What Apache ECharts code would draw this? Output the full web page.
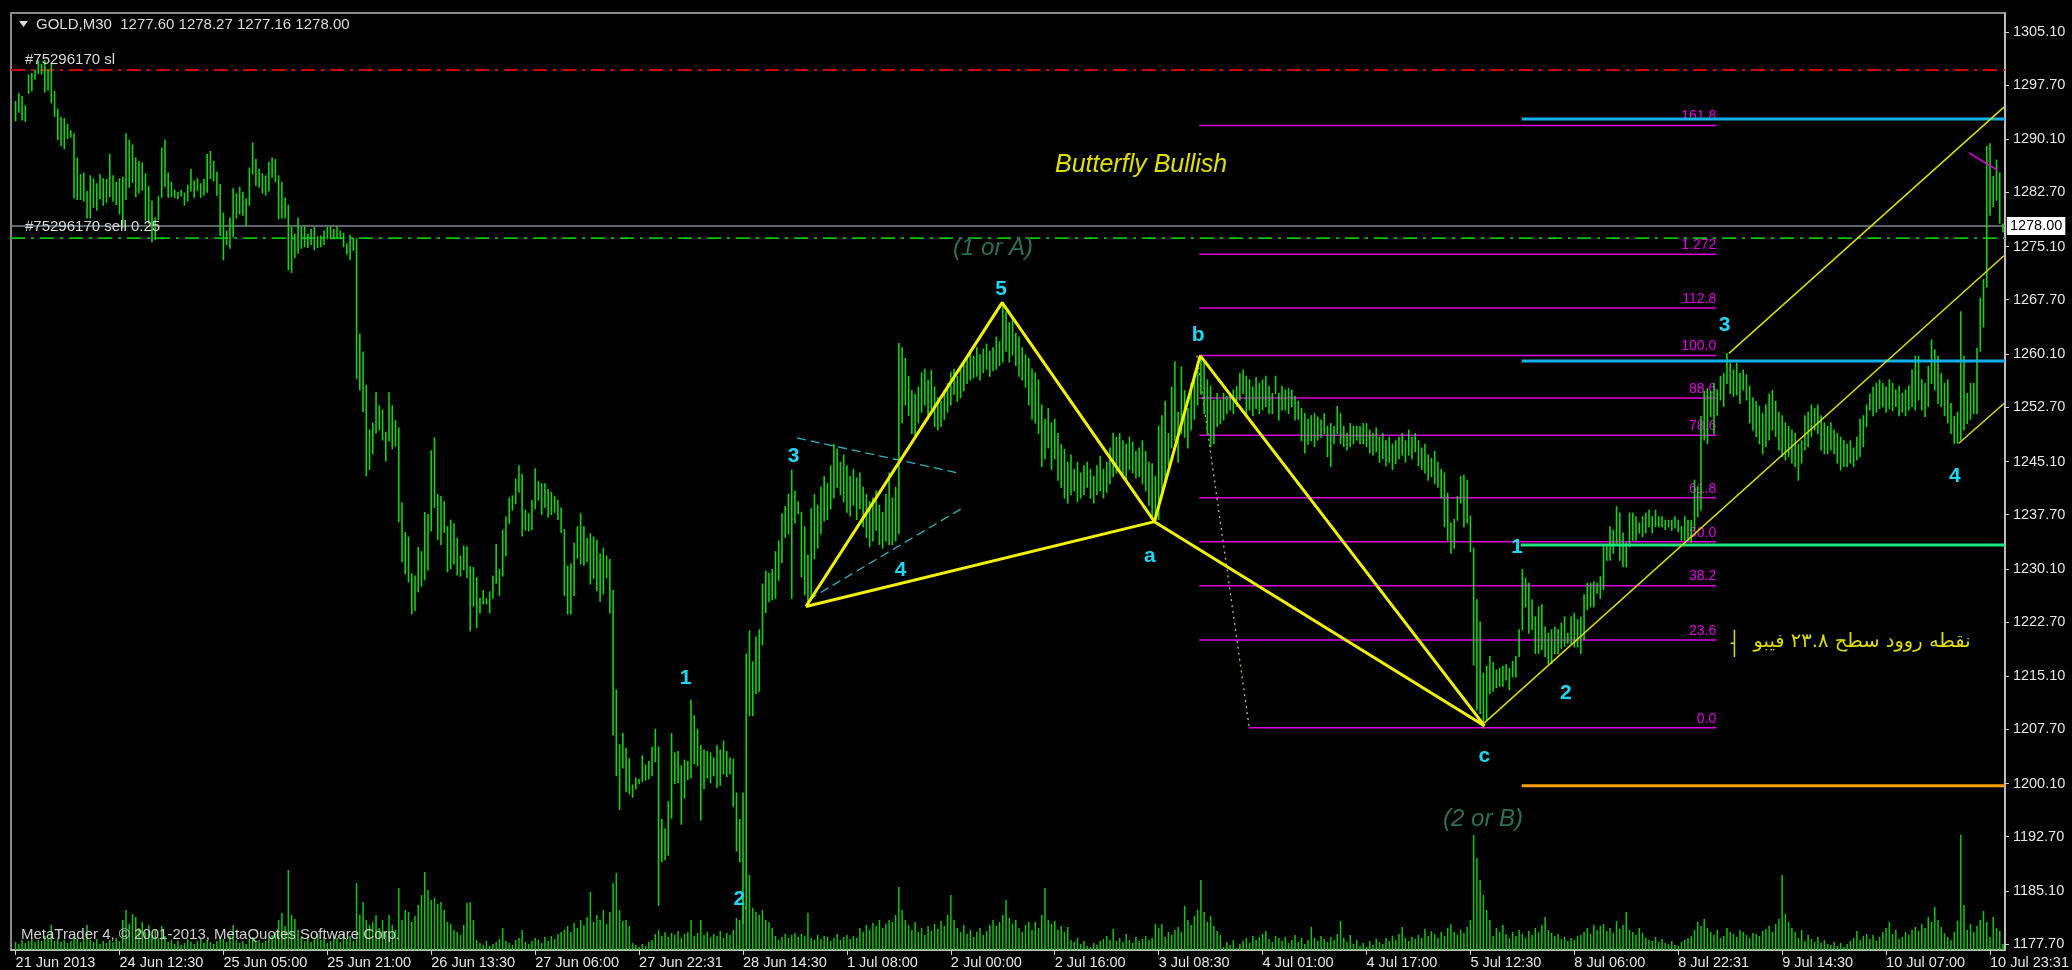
<!DOCTYPE html>
<html>
<head>
<meta charset="utf-8">
<title>GOLD,M30</title>
<script src="https://cdn.jsdelivr.net/npm/echarts@6/dist/echarts.min.js"></script>
<style>
  html, body { margin: 0; padding: 0; background: #000; }
  #chart { width: 2072px; height: 970px; }
</style>
</head>
<body>
<div id="chart"></div>
<script>
// ---- time axis (one label every 32 half-hour bars) ----
const timeLabels = ['21 Jun 2013', '24 Jun 12:30', '25 Jun 05:00', '25 Jun 21:00', '26 Jun 13:30',
  '27 Jun 06:00', '27 Jun 22:31', '28 Jun 14:30', '1 Jul 08:00', '2 Jul 00:00', '2 Jul 16:00',
  '3 Jul 08:30', '4 Jul 01:00', '4 Jul 17:00', '5 Jul 12:30', '8 Jul 06:00', '8 Jul 22:31',
  '9 Jul 14:30', '10 Jul 07:00', '10 Jul 23:31'];
const timeLabelBars = [0, 32, 64, 96, 128, 160, 192, 224, 256, 288, 320, 352, 384, 416, 448, 480, 512, 544, 576, 608];

// ---- price scale labels ----
const priceTicks = [1177.70, 1185.10, 1192.70, 1200.10, 1207.70, 1215.10, 1222.70, 1230.10, 1237.70,
  1245.10, 1252.70, 1260.10, 1267.70, 1275.10, 1282.70, 1290.10, 1297.70, 1305.10];

// ---- M30 bars: [high, low] ----
const priceBars = [
  [1295.4,1292.7],[1296.5,1293.9],[1296.1,1292.8],[1294.8,1292.6],[1299.1,1296.5],[1299.3,1296.9],[1299.8,1298.5],[1301.1,1299.3],[1300.6,1299.2],[1301.1,1296.7],
  [1299.8,1297.0],[1300.7,1295.2],[1296.8,1293.3],[1294.3,1290.1],[1293.2,1289.2],[1293.0,1288.8],[1292.2,1290.2],[1291.3,1290.4],[1290.9,1281.9],[1287.5,1281.7],
  [1285.2,1281.7],[1285.4,1281.5],[1282.8,1279.1],[1285.0,1279.1],[1284.6,1280.6],[1283.9,1280.2],[1285.2,1281.8],[1284.6,1280.9],[1284.5,1281.3],[1288.0,1282.1],
  [1285.0,1281.5],[1284.1,1281.0],[1284.6,1279.7],[1284.8,1277.8],[1290.9,1281.7],[1290.0,1283.4],[1289.3,1284.1],[1287.5,1282.1],[1287.0,1282.6],[1286.8,1283.0],
  [1285.3,1278.8],[1283.5,1278.4],[1281.5,1275.8],[1279.1,1276.1],[1282.1,1278.9],[1288.9,1282.0],[1290.0,1283.5],[1285.4,1282.0],[1284.1,1282.1],[1283.0,1282.0],
  [1282.7,1281.8],[1283.0,1282.2],[1282.6,1280.9],[1283.7,1281.5],[1285.9,1282.9],[1284.3,1282.0],[1284.6,1283.0],[1283.9,1282.0],[1284.5,1282.3],[1288.0,1282.7],
  [1288.4,1284.6],[1287.0,1284.3],[1285.5,1282.3],[1283.8,1276.7],[1279.8,1273.3],[1277.3,1275.4],[1279.1,1274.9],[1283.2,1276.5],[1282.5,1279.1],[1283.4,1279.7],
  [1282.7,1279.5],[1281.8,1278.1],[1286.1,1280.9],[1289.6,1285.3],[1287.3,1283.7],[1285.9,1283.4],[1285.3,1282.6],[1285.0,1282.3],[1286.9,1282.9],[1287.5,1284.8],
  [1287.3,1284.2],[1285.0,1279.0],[1284.1,1279.1],[1281.9,1279.1],[1280.9,1271.9],[1277.8,1271.5],[1276.8,1273.6],[1279.1,1274.2],[1277.8,1274.9],[1277.9,1275.1],
  [1276.8,1275.0],[1277.5,1275.4],[1277.8,1274.7],[1276.5,1275.0],[1276.6,1275.1],[1277.3,1275.4],[1277.8,1276.2],[1277.9,1276.2],[1277.5,1276.2],[1277.9,1276.3],
  [1277.3,1276.2],[1277.0,1275.1],[1275.5,1274.1],[1276.7,1273.3],[1276.3,1274.6],[1276.2,1256.7],[1262.9,1255.1],[1260.4,1252.1],[1255.75,1243.1],[1249.5,1244.0],
  [1250.45,1246.2],[1254.7,1249.1],[1252.9,1249.5],[1252.3,1248.1],[1249.2,1245.15],[1254.7,1247.95],[1252.9,1246.9],[1250.8,1247.3],[1249.8,1236.7],[1239.35,1231.1],
  [1235.2,1229.4],[1234.55,1228.3],[1229.4,1223.8],[1229.1,1224.3],[1233.1,1226.9],[1232.5,1227.7],[1238.0,1228.6],[1237.7,1229.9],[1246.6,1235.4],[1248.4,1238.7],
  [1240.5,1234.2],[1240.2,1233.5],[1239.5,1235.2],[1236.0,1229.7],[1236.9,1230.1],[1236.4,1230.8],[1234.4,1229.25],[1231.9,1229.1],[1233.3,1230.0],[1233.2,1228.9],
  [1230.4,1221.45],[1230.3,1224.9],[1228.9,1221.9],[1226.0,1223.95],[1227.1,1225.2],[1225.95,1225.2],[1226.9,1223.95],[1229.1,1226.0],[1233.5,1228.1],[1230.0,1226.4],
  [1235.5,1229.1],[1237.35,1231.9],[1240.0,1236.4],[1240.3,1238.3],[1242.65,1239.2],[1244.5,1240.8],[1243.3,1234.7],[1238.3,1235.5],[1237.8,1235.4],[1239.7,1235.6],
  [1244.1,1238.5],[1242.3,1239.7],[1242.0,1237.7],[1242.0,1238.7],[1241.2,1237.35],[1240.8,1237.7],[1240.2,1238.0],[1239.7,1237.0],[1238.6,1235.2],[1235.6,1226.4],
  [1230.5,1223.8],[1230.8,1223.8],[1233.7,1226.4],[1236.0,1231.6],[1237.8,1230.8],[1236.0,1230.6],[1234.4,1231.1],[1235.0,1228.0],[1234.55,1228.75],[1234.1,1227.1],
  [1232.2,1225.6],[1233.0,1226.6],[1231.9,1228.9],[1231.4,1223.95],[1227.1,1206.9],[1213.2,1201.2],[1205.55,1196.5],[1207.1,1202.3],[1205.05,1199.0],[1203.6,1198.7],
  [1199.9,1198.2],[1200.9,1199.4],[1200.7,1200.1],[1204.0,1200.4],[1202.7,1200.6],[1203.2,1200.8],[1205.2,1201.2],[1207.7,1203.2],[1205.2,1183.1],[1195.1,1189.2],
  [1193.8,1189.5],[1197.6,1190.1],[1207.1,1195.3],[1204.4,1200.1],[1204.6,1200.25],[1202.6,1194.45],[1203.4,1198.1],[1203.2,1200.7],[1211.8,1200.9],[1209.6,1202.9],
  [1207.7,1202.6],[1205.4,1195.0],[1204.8,1199.4],[1204.6,1200.9],[1204.4,1200.25],[1203.7,1201.2],[1205.4,1199.6],[1204.8,1199.9],[1206.05,1201.5],[1204.6,1201.1],
  [1203.7,1201.5],[1203.5,1196.95],[1198.8,1190.7],[1195.1,1189.2],[1198.8,1180.6],[1218.2,1182.5],[1221.45,1209.6],[1217.1,1209.6],[1220.6,1212.7],[1221.6,1213.0],
  [1228.0,1219.5],[1229.8,1224.0],[1229.5,1225.5],[1230.0,1225.8],[1232.5,1226.0],[1234.0,1228.5],[1237.8,1231.0],[1238.8,1234.5],[1240.5,1235.0],[1243.9,1226.0],
  [1241.0,1236.5],[1239.5,1237.8],[1238.0,1229.0],[1236.0,1226.5],[1232.0,1224.8],[1238.5,1226.0],[1240.5,1231.5],[1239.0,1233.0],[1241.5,1235.0],[1243.0,1236.8],
  [1242.0,1237.0],[1244.5,1238.5],[1247.5,1240.0],[1246.8,1241.5],[1245.0,1240.5],[1246.0,1239.5],[1244.5,1238.0],[1243.0,1237.5],[1244.0,1239.0],[1242.8,1237.0],
  [1243.5,1238.5],[1241.5,1236.0],[1240.5,1234.5],[1239.5,1233.2],[1240.0,1234.0],[1241.0,1235.5],[1239.0,1233.5],[1238.0,1233.0],[1240.5,1234.0],[1243.5,1233.5],
  [1240.0,1233.5],[1241.5,1234.0],[1261.6,1235.0],[1261.0,1250.5],[1259.5,1253.0],[1257.0,1251.5],[1255.0,1249.0],[1254.5,1248.5],[1255.5,1250.5],[1257.5,1252.0],
  [1258.0,1253.0],[1256.5,1251.0],[1257.8,1252.5],[1255.5,1250.0],[1254.0,1249.5],[1253.5,1250.0],[1255.0,1251.0],[1256.0,1252.0],[1257.5,1253.0],[1258.0,1254.5],
  [1257.0,1253.5],[1258.5,1254.0],[1259.0,1255.0],[1259.5,1256.0],[1260.5,1256.5],[1259.8,1256.8],[1261.0,1257.0],[1260.0,1256.5],[1260.8,1257.5],[1261.5,1258.0],
  [1260.5,1257.0],[1261.0,1257.8],[1262.5,1258.0],[1261.8,1258.5],[1267.3,1259.0],[1266.0,1260.5],[1264.5,1259.0],[1265.0,1260.0],[1263.0,1258.5],[1262.5,1257.0],
  [1261.0,1256.5],[1260.0,1255.5],[1259.5,1253.0],[1258.0,1251.0],[1257.5,1250.5],[1256.5,1249.0],[1253.0,1244.4],[1251.0,1245.5],[1252.5,1247.0],[1250.5,1244.0],
  [1251.0,1245.5],[1249.0,1242.5],[1247.5,1241.5],[1246.8,1240.0],[1245.0,1239.3],[1246.0,1240.5],[1244.0,1241.0],[1245.0,1239.5],[1243.5,1240.0],[1244.5,1240.5],
  [1245.0,1241.5],[1244.0,1240.0],[1243.0,1239.3],[1244.5,1240.5],[1245.8,1241.0],[1244.0,1240.0],[1245.0,1240.8],[1247.0,1242.0],[1249.0,1243.0],[1248.5,1243.5],
  [1249.0,1244.0],[1248.0,1243.0],[1247.5,1242.5],[1248.5,1244.0],[1247.8,1243.5],[1246.5,1242.8],[1247.0,1243.0],[1248.0,1242.0],[1246.5,1241.0],[1245.0,1239.0],
  [1244.8,1237.5],[1243.0,1236.5],[1250.0,1237.0],[1251.5,1240.5],[1253.5,1242.5],[1249.0,1244.5],[1255.5,1247.0],[1259.0,1248.0],[1252.0,1245.0],[1258.3,1249.0],
  [1255.0,1248.5],[1252.5,1247.0],[1256.0,1249.5],[1257.5,1251.0],[1258.5,1253.0],[1259.9,1254.5],[1259.3,1251.8],[1256.5,1249.0],[1255.6,1247.2],[1253.7,1247.6],
  [1254.6,1250.0],[1253.7,1250.4],[1254.6,1250.9],[1254.2,1251.8],[1254.6,1252.3],[1255.1,1251.8],[1255.6,1252.8],[1257.4,1253.7],[1257.9,1254.6],[1257.0,1251.8],
  [1256.5,1252.3],[1255.5,1251.5],[1256.8,1252.5],[1256.0,1251.8],[1256.5,1252.3],[1257.0,1252.8],[1255.6,1251.8],[1254.6,1251.8],[1257.0,1254.6],[1254.6,1250.9],
  [1255.6,1252.3],[1255.1,1252.3],[1255.3,1251.8],[1255.1,1252.8],[1254.2,1250.9],[1253.5,1251.0],[1252.5,1248.0],[1251.8,1246.3],[1251.0,1247.5],[1251.5,1248.0],
  [1251.8,1247.2],[1251.3,1248.1],[1250.9,1248.5],[1251.8,1249.0],[1250.0,1245.8],[1250.4,1244.4],[1250.0,1247.6],[1252.8,1249.0],[1251.8,1247.6],[1250.0,1247.2],
  [1249.0,1246.7],[1250.4,1247.2],[1250.0,1247.6],[1250.0,1248.1],[1250.0,1247.6],[1250.4,1247.6],[1250.4,1247.2],[1249.5,1246.3],[1249.0,1246.0],[1249.8,1246.5],
  [1248.5,1245.0],[1249.0,1245.5],[1248.0,1244.5],[1248.5,1245.0],[1247.5,1244.0],[1248.0,1244.8],[1248.5,1245.5],[1249.0,1246.0],[1248.0,1245.0],[1249.5,1246.0],
  [1248.5,1245.5],[1249.0,1246.5],[1248.0,1244.5],[1247.0,1244.0],[1247.5,1243.5],[1246.0,1242.5],[1245.5,1243.0],[1246.5,1242.0],[1245.0,1241.5],[1244.0,1240.0],
  [1243.5,1236.0],[1240.7,1234.1],[1236.5,1232.3],[1237.0,1233.0],[1240.2,1236.9],[1243.0,1239.3],[1243.2,1236.0],[1242.5,1236.5],[1237.5,1232.5],[1233.0,1216.7],
  [1225.8,1210.4],[1222.7,1209.9],[1215.5,1207.9],[1216.5,1209.0],[1217.85,1212.7],[1217.0,1213.0],[1216.0,1213.5],[1216.2,1213.7],[1216.5,1213.7],[1216.7,1214.6],
  [1216.2,1213.2],[1217.2,1215.0],[1217.85,1215.0],[1221.6,1217.85],[1230.0,1221.6],[1228.8,1224.8],[1228.1,1221.1],[1225.8,1221.6],[1223.4,1218.3],[1224.8,1218.3],
  [1225.1,1218.8],[1222.0,1217.85],[1221.1,1216.9],[1221.6,1216.9],[1222.0,1218.3],[1221.6,1218.3],[1222.5,1219.0],[1223.4,1219.3],[1221.1,1219.7],[1223.4,1219.7],
  [1223.9,1219.2],[1223.0,1219.2],[1223.4,1218.3],[1226.5,1220.2],[1228.1,1224.4],[1228.1,1224.8],[1228.3,1224.8],[1228.1,1226.7],[1229.0,1226.0],[1233.2,1227.2],
  [1233.2,1231.3],[1236.0,1231.3],[1235.5,1232.3],[1238.8,1233.7],[1237.9,1231.3],[1235.1,1230.4],[1233.7,1230.4],[1237.9,1233.2],[1237.9,1234.1],[1237.4,1234.1],
  [1236.5,1235.1],[1237.4,1234.6],[1237.9,1235.1],[1238.3,1236.0],[1237.4,1235.1],[1238.3,1236.0],[1237.4,1236.0],[1237.4,1236.0],[1236.9,1235.6],[1236.9,1236.0],
  [1236.9,1235.5],[1237.4,1235.8],[1236.9,1235.3],[1236.0,1234.1],[1237.4,1234.1],[1236.9,1234.1],[1236.9,1233.8],[1242.5,1235.5],[1241.6,1237.4],[1251.4,1238.3],
  [1254.9,1248.1],[1255.3,1247.6],[1254.9,1251.4],[1256.0,1249.0],[1255.1,1251.6],[1257.0,1253.7],[1257.4,1252.8],[1260.2,1256.0],[1258.8,1254.6],[1257.9,1254.2],
  [1258.8,1254.4],[1257.4,1253.2],[1257.9,1255.1],[1257.2,1253.7],[1255.6,1250.5],[1254.0,1249.5],[1253.5,1248.6],[1252.8,1247.6],[1251.8,1246.2],[1253.0,1247.2],
  [1254.5,1248.1],[1255.0,1249.5],[1253.5,1248.6],[1252.0,1246.7],[1251.5,1245.8],[1250.5,1245.3],[1250.0,1245.8],[1249.5,1244.9],[1249.0,1244.4],[1247.5,1242.5],
  [1248.0,1244.9],[1251.5,1246.7],[1252.0,1247.2],[1253.0,1248.6],[1252.5,1249.5],[1253.0,1249.0],[1251.5,1246.7],[1250.5,1246.2],[1250.0,1246.2],[1250.5,1246.7],
  [1249.5,1246.2],[1249.0,1244.9],[1248.5,1243.9],[1248.0,1244.4],[1247.5,1244.4],[1248.0,1244.9],[1247.0,1244.4],[1248.5,1245.3],[1251.0,1245.8],[1251.5,1247.2],
  [1253.0,1250.0],[1254.5,1252.3],[1255.5,1251.5],[1256.0,1252.0],[1256.5,1252.5],[1256.0,1252.8],[1255.5,1252.0],[1256.5,1252.5],[1256.0,1252.2],[1255.1,1252.8],
  [1255.6,1251.5],[1254.6,1252.0],[1255.1,1251.5],[1255.6,1252.3],[1257.9,1252.8],[1259.8,1252.3],[1259.8,1253.7],[1256.5,1252.3],[1256.0,1251.4],[1258.4,1252.8],
  [1262.1,1256.0],[1260.7,1255.1],[1259.8,1253.2],[1257.4,1252.8],[1256.0,1251.5],[1256.5,1250.5],[1253.2,1249.0],[1251.4,1247.6],[1252.0,1247.65],[1266.0,1248.1],
  [1259.8,1249.5],[1254.6,1250.4],[1256.0,1251.0],[1256.0,1251.8],[1260.9,1251.8],[1267.9,1260.5],[1270.5,1263.9],[1289.1,1269.5],[1289.5,1279.5],[1284.9,1280.7],
  [1287.2,1281.6],[1285.4,1278.4],[1278.27,1277.16]
];
const lastBarOpen = 1277.60;
const lastBarClose = 1278.00;

// ---- tick volume per bar ----
const volumes = [
  160,120,200,140,180,240,160,200,180,280, 220,500,180,240,160,200,140,180,280,220,
  160,240,500,200,160,220,120,180,140,200, 160,240,180,600,800,520,720,660,440,560,
  360,500,300,400,240,480,280,160,200,120, 180,100,140,220,160,120,180,240,140,200,
  160,120,180,260,220,160,280,500,200,140, 180,120,220,260,160,200,140,180,240,300,
  360,600,740,480,1600,700,620,400,240,180, 280,160,220,320,200,260,140,180,300,240,
  160,340,220,280,180,1340,700,960,600,500, 560,700,440,600,360,700,500,400,1240,600,
  800,760,560,680,900,1100,1560,1200,1000,1040, 920,960,800,560,520,400,360,300,500,940,
  960,600,200,140,100,180,80,120,160,220, 440,180,140,100,200,240,400,160,120,180,
  240,200,140,260,180,280,220,320,360,400, 480,360,540,440,600,500,660,1160,560,700,
  600,800,520,760,1340,1540,800,580,600,480, 140,100,60,120,80,160,200,320,400,280,
  360,260,340,300,380,240,320,360,600,280, 340,600,300,360,260,320,280,380,240,340,
  300,400,640,600,1060,900,1500,840,760,700, 800,600,560,440,280,200,260,320,240,300,
  340,260,320,280,740,240,200,300,220,280, 260,180,240,320,200,260,300,220,280,240,
  440,360,500,400,540,480,600,440,520,600, 560,700,1260,800,600,500,400,560,360,440,
  300,480,380,520,420,580,480,700,1100,600, 440,360,500,320,400,260,360,440,300,380,
  500,600,480,560,700,1000,640,520,600,440, 360,500,560,400,560,440,700,1240,600,520,
  580,400,480,360,460,200,160,240,120,180, 80,60,140,100,180,220,280,200,420,180,
  240,160,320,200,140,260,180,220,280,200, 240,520,440,520,260,360,300,400,460,360,
  880,600,500,680,800,1400,760,560,680,480, 380,300,60,160,100,200,40,120,180,240,
  140,280,200,260,320,380,220,160,280,240, 180,260,140,200,300,160,240,120,200,460,
  240,180,280,220,160,260,200,320,580,240, 160,300,120,200,80,140,60,180,100,220,
  160,120,240,180,280,200,320,460,240,180, 260,220,300,240,420,280,380,320,240,360,
  280,440,520,360,300,400,340,460,600,2300, 1840,1400,1100,800,600,280,440,360,500,320,
  240,360,280,400,320,240,380,300,440,360, 500,660,400,340,280,320,220,260,180,240,
  200,280,300,360,440,320,500,400,480,520, 380,440,340,580,420,500,760,400,360,300,
  440,340,240,200,180,260,160,220,140,120, 180,100,80,160,200,240,280,400,560,480,
  620,440,360,300,400,240,280,440,360,320, 260,400,360,300,240,340,320,280,380,420,
  480,360,520,620,1500,720,560,440,360,240, 400,180,300,220,160,260,140,200,120,100,
  160,80,140,60,120,180,240,380,200,280, 320,220,300,180,260,360,440,560,320,400,
  220,260,360,300,400,460,380,520,440,660, 560,860,600,460,340,260,200,360,580,2300,
  900,400,520,360,480,600,780,560,260,660, 440,380,120
];

// ---- trade levels ----
const stopLossPrice = 1299.8;
const sellPrice = 1276.3;
const bidPrice = 1278.0;

// ---- butterfly pattern pivots [bar, price] ----
const pivotX = [243.4, 1224.85];
const pivot5 = [303.8, 1267.3];
const pivotA = [350.7, 1236.7];
const pivotB = [364.8, 1259.9];
const pivotC = [452.3, 1208.2];

// ---- Fibonacci retracement ----
const fibStart = 364.5, fibZeroStart = 379.9, fibEnd = 523.7;
const fibHigh = 1259.9, fibLow = 1207.9;
const fibRatios = [1.618, 1.272, 1.128, 1.0, 0.886, 0.786, 0.618, 0.5, 0.382, 0.236, 0];
const fibLabels = ['161.8', '1.272', '112.8', '100.0', '88.6', '78.6', '61.8', '50.0', '38.2', '23.6', '0.0'];

// ---- horizontal target levels ----
const targetStart = 463.8;
const cyanLevels = [1292.95, 1259.15];
const greenLevel = 1233.45;
const orangeLevel = 1199.8;

// ---- channel lines [[bar, price], [bar, price]] ----
const channelLines = [
  [[452.3, 1208.6], [612.3, 1273.85]],
  [[527.6, 1260.2], [612.3, 1294.6]],
  [[598.4, 1247.65], [612.3, 1253.2]]
];
const flagLines = [
  [[240.6, 1248.4], [290.7, 1243.45]],
  [[244.2, 1225.8], [291.4, 1238.55]]
];
const fibTrend = [[363.8, 1259.9], [379.9, 1207.9]];
const shortMagenta = [[601.5, 1288.2], [610.3, 1285.8]];
const entryMark = [[528.1, 1219.7], [529.3, 1219.7], [529.3, 1221.6], [529.3, 1217.8]];

// ---- wave labels [text, bar, price] ----
const waveLabels = [
  ['1', 206.3, 1214.9], ['2', 222.9, 1184.0], ['3', 239.6, 1245.8], ['4', 272.5, 1229.9],
  ['5', 303.5, 1269.2], ['a', 349.3, 1231.9], ['b', 364.2, 1262.7], ['c', 452.3, 1204.0],
  ['1', 462.4, 1233.2], ['2', 477.4, 1212.8], ['3', 526.3, 1264.2], ['4', 597.2, 1243.0]
];
const noteLabels = [
  ['Butterfly Bullish', 346.6, 1286.5, 'title'],
  ['(1 or A)', 301.0, 1274.9, 'wave'],
  ['(2 or B)', 451.9, 1195.1, 'wave']
];
const entryNote = ['نقطه روود سطح ۲۳.۸ فیبو', 568.6, 1219.9];

// ---- layout ----
const X_MIN = -1.41, X_MAX = 612.59;
const Y_MIN = 1176.87, Y_MAX = 1307.75;
const VOL_AXIS_MAX = 18740;
const FONT = '"Liberation Sans", Arial, sans-serif';
const BAR_GREEN = '#14d214';

function segment(points, color, width, type, z) {
  return {
    type: 'line', data: points, symbol: 'none', showSymbol: false, silent: true,
    lineStyle: { color: color, width: width, type: type || 'solid' },
    z: z || 3, animation: false, clip: true
  };
}

function textLayer(items, styleFor, z) {
  return {
    type: 'custom', silent: true, animation: false, z: z || 10, clip: false,
    data: items.map(t => [t[1], t[2]]),
    encode: { x: 0, y: 1 },
    renderItem: (params, api) => {
      const t = items[params.dataIndex];
      const p = api.coord([api.value(0), api.value(1)]);
      const s = styleFor(t);
      return { type: 'text', x: p[0] + (s.dx || 0), y: p[1] + (s.dy || 0),
        style: Object.assign({ text: t[0] }, s.style) };
    }
  };
}

const series = [];

// volume bars
series.push({
  type: 'custom', yAxisIndex: 1, silent: true, animation: false, z: 2,
  data: volumes.map((v, i) => [i, v]), encode: { x: 0, y: 1 },
  renderItem: (params, api) => {
    const top = api.coord([api.value(0), api.value(1)]);
    const base = api.coord([api.value(0), 0]);
    return { type: 'line', shape: { x1: top[0], y1: top[1], x2: base[0], y2: base[1] },
      style: { stroke: '#12c412', lineWidth: 1.5 } };
  }
});

// order lines
series.push(segment([[X_MIN, stopLossPrice], [X_MAX, stopLossPrice]], '#d40000', 2, [14, 6, 3, 6], 1));
series.push(segment([[X_MIN, sellPrice], [X_MAX, sellPrice]], '#00c400', 1.6, [14, 6, 3, 6], 1));
series.push(segment([[X_MIN, bidPrice], [X_MAX, bidPrice]], '#7a8794', 1.6, 'solid', 1));

// Fibonacci levels and labels
fibRatios.forEach((r, k) => {
  const price = fibLow + r * (fibHigh - fibLow);
  const start = r === 0 ? fibZeroStart : fibStart;
  series.push(segment([[start, price], [fibEnd, price]], '#e000e0', 1.5, 'solid', 1));
});
series.push(textLayer(fibRatios.map((r, k) => [fibLabels[k], fibEnd, fibLow + r * (fibHigh - fibLow)]),
  () => ({ dy: -2, style: { fill: '#e000e0', fontSize: 14, fontFamily: FONT, align: 'right', verticalAlign: 'bottom' } }), 1));
series.push(segment(fibTrend, '#c4b184', 1.3, [2, 4], 2));

// price bars
series.push({
  type: 'custom', silent: true, animation: false, z: 5,
  data: priceBars.map((b, i) => [i, b[0], b[1]]), encode: { x: 0, y: [1, 2] },
  renderItem: (params, api) => {
    const hi = api.coord([api.value(0), api.value(1)]);
    const lo = api.coord([api.value(0), api.value(2)]);
    return { type: 'line', shape: { x1: hi[0], y1: hi[1] - 0.5, x2: lo[0], y2: lo[1] + 0.5 },
      style: { stroke: BAR_GREEN, lineWidth: 1.6 } };
  }
});

// target levels
cyanLevels.forEach(p => series.push(segment([[targetStart, p], [X_MAX, p]], '#12b0ee', 3, 'solid', 6)));
series.push(segment([[targetStart - 0.3, greenLevel], [X_MAX, greenLevel]], '#1ee67e', 3, 'solid', 6));
series.push(segment([[targetStart, orangeLevel], [X_MAX, orangeLevel]], '#f59f00', 3, 'solid', 6));

// channels and flag
channelLines.forEach(l => series.push(segment(l, '#dcdc00', 1.5, 'solid', 7)));
flagLines.forEach(l => series.push(segment(l, '#2fb2c2', 1.3, [9, 5], 7)));
series.push(segment(shortMagenta, '#e000e0', 1.5, 'solid', 7));

// butterfly pattern
series.push(segment([pivotX, pivot5, pivotA, pivotX], '#f2f200', 3, 'solid', 8));
series.push(segment([pivotA, pivotB, pivotC, pivotA], '#f2f200', 3, 'solid', 8));

// entry note
series.push(segment([entryMark[0], entryMark[1]], '#dcdc00', 1.5, 'solid', 8));
series.push(segment([entryMark[2], entryMark[3]], '#dcdc00', 1.5, 'solid', 8));
series.push(textLayer([entryNote], () => ({ style: { fill: '#dcdc00', fontSize: 19.5,
  fontFamily: '"DejaVu Sans", sans-serif', align: 'center', verticalAlign: 'middle' } }), 10));

// wave and pattern labels
series.push(textLayer(waveLabels, () => ({ style: { fill: '#1ed8f5', fontSize: 21, fontWeight: 'bold',
  fontFamily: FONT, align: 'center', verticalAlign: 'middle' } }), 11));
series.push(textLayer(noteLabels, t => ({ style: {
  fill: t[3] === 'title' ? '#e0e000' : '#2e6f57', fontSize: t[3] === 'title' ? 25 : 24, fontStyle: 'italic',
  fontFamily: FONT, align: 'center', verticalAlign: 'middle' } }), 11));

// order labels
series.push(textLayer([['#75296170 sl', 2.9, stopLossPrice]], () => ({ dy: -3, style: {
  fill: '#dadada', fontSize: 15, fontFamily: FONT, align: 'left', verticalAlign: 'bottom' } }), 11));
series.push(textLayer([['#75296170 sell 0.25', 2.9, sellPrice]], () => ({ dy: -4, style: {
  fill: '#dadada', fontSize: 15, fontFamily: FONT, align: 'left', verticalAlign: 'bottom' } }), 11));

// bid price box on the price scale
series.push(textLayer([[bidPrice.toFixed(2), X_MAX, bidPrice]], () => ({ dx: 2, style: {
  fill: '#000', backgroundColor: '#fff', padding: [2, 3, 1, 3], fontSize: 14.5, fontFamily: FONT,
  align: 'left', verticalAlign: 'middle' } }), 12));

const lastBar = priceBars[priceBars.length - 1];
const headerText = 'GOLD,M30  ' + [lastBarOpen, lastBar[0], lastBar[1], lastBarClose].map(v => v.toFixed(2)).join(' ');

const option = {
  backgroundColor: '#000',
  animation: false,
  grid: { left: 11, right: 64, top: 13, bottom: 20, show: true, borderColor: '#b4b4b4', borderWidth: 1.5, backgroundColor: '#000' },
  xAxis: {
    type: 'value', min: X_MIN, max: X_MAX, splitLine: { show: false },
    axisLine: { show: true, onZero: false, lineStyle: { color: '#cfcfcf', width: 1.5 } },
    axisTick: { show: true, customValues: timeLabelBars, length: 5, lineStyle: { color: '#cfcfcf' } },
    axisLabel: { customValues: timeLabelBars, formatter: v => timeLabels[timeLabelBars.indexOf(v)],
      align: 'left', color: '#e6e6e6', fontFamily: FONT, fontSize: 14.5, margin: 5, hideOverlap: false }
  },
  yAxis: [
    {
      type: 'value', position: 'right', min: Y_MIN, max: Y_MAX, splitLine: { show: false },
      axisLine: { show: true, onZero: false, lineStyle: { color: '#cfcfcf', width: 1.5 } },
      axisTick: { show: true, customValues: priceTicks, length: 4, lineStyle: { color: '#cfcfcf' } },
      axisLabel: { customValues: priceTicks, formatter: v => v.toFixed(2), color: '#e6e6e6',
        fontFamily: FONT, fontSize: 14.5, margin: 8, hideOverlap: false }
    },
    { type: 'value', min: 0, max: VOL_AXIS_MAX, show: false }
  ],
  graphic: [
    { type: 'polygon', shape: { points: [[19, 21], [28, 21], [23.5, 27]] }, style: { fill: '#dcdcdc' }, z: 20 },
    { type: 'text', left: 36, top: 17, style: { text: headerText, fill: '#dcdcdc', fontSize: 15, fontFamily: FONT }, z: 20 },
    { type: 'text', left: 21, top: 927, style: { text: 'MetaTrader 4, © 2001-2013, MetaQuotes Software Corp.',
      fill: '#d0d0d0', fontSize: 15, fontFamily: FONT }, z: 20 }
  ],
  series: series
};

const chart = echarts.init(document.getElementById('chart'), null, { renderer: 'canvas' });
chart.setOption(option);
</script>
</body>
</html>
